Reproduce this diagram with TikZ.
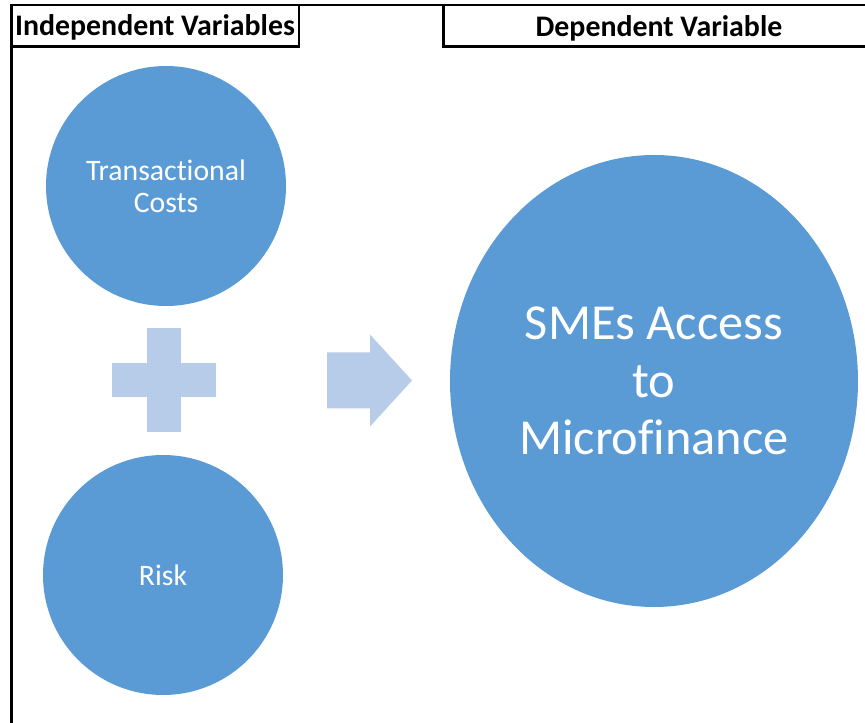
\documentclass[tikz,border=0pt]{standalone}
\usepackage{fontspec}
\setmainfont{Carlito}[Ligatures=NoCommon]
\usetikzlibrary{calc,shapes.geometric}
\definecolor{varblue}{RGB}{91,155,213}
\definecolor{linkblue}{RGB}{183,204,232}
\newcommand{\plussign}[1]{% plus sign centered at (#1)
  \fill[linkblue] ($(#1)+(-17,-52)$) rectangle ($(#1)+(17,52)$);
  \fill[linkblue] ($(#1)+(-52,-17)$) rectangle ($(#1)+(52,17)$);
}
\newcommand{\blockarrow}[1]{% right-pointing block arrow, tip at (#1)
  \fill[linkblue] ($(#1)+(-85,-28)$) -- ($(#1)+(-42,-28)$)
    -- ($(#1)+(-42,-46)$) -- (#1) -- ($(#1)+(-42,46)$)
    -- ($(#1)+(-42,28)$) -- ($(#1)+(-85,28)$) -- cycle;
}

\begin{document}
\begin{tikzpicture}[x=0.75pt,y=-0.75pt,
  varnode/.style={fill=varblue, text=white, align=center, inner sep=0pt},
  smallvar/.style={varnode, circle, minimum size=180pt,
    font=\fontsize{22.3}{24}\selectfont},
  header/.style={font=\bfseries\fontsize{22.4}{26}\selectfont, inner sep=0pt},
  frame/.style={line width=2pt}]
  \useasboundingbox (0,0) rectangle (865,723);
  % header frame
  \draw[line width=1.6pt] (10,5) -- (865,5);
  \draw[frame] (11.5,4) -- (11.5,723);
  \draw[frame] (299,4) -- (299,48);
  \draw[frame] (10,46.5) -- (300,46.5);
  \draw[frame] (443.5,4) -- (443.5,48);
  \draw[frame] (442.5,46.5) -- (865,46.5);
  \node[header] (indep) at (155,27) {Independent Variables};
  \node[header] (dep) at (659,28) {Dependent Variable};
  % variables
  \node[smallvar] (costs) at (166,186) {Transactional\\Costs};
  \node[smallvar] (risk) at (163,575) {Risk};
  \node[varnode, ellipse, minimum width=306pt, minimum height=339pt,
    font=\fontsize{37.8}{43}\selectfont] (access) at (654,381)
    {SMEs Access\\to\\Microfinance};
  \plussign{164,380.5}
  \blockarrow{412,380.5}
\end{tikzpicture}
\end{document}
